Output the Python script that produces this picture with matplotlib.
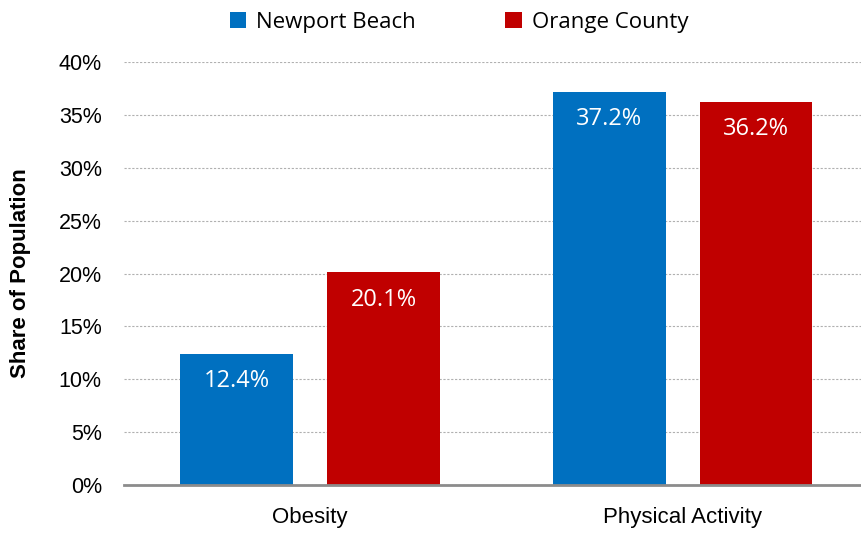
import numpy as np
import matplotlib
matplotlib.use("Agg")
import matplotlib.pyplot as plt
from matplotlib.ticker import FuncFormatter

categories = ["Obesity", "Physical Activity"]
newport_beach = [12.4, 37.2]
orange_county = [20.1, 36.2]
series_names = ["Newport Beach", "Orange County"]
y_ticks = [0, 5, 10, 15, 20, 25, 30, 35, 40]

BLUE = "#0070C0"
RED = "#C00000"

narrow = ["Liberation Sans Narrow", "Liberation Sans", "DejaVu Sans"]
label_font = ["Open Sans", "DejaVu Sans"]

fig = plt.figure(figsize=(8.61, 5.33), dpi=100)
ax = fig.add_axes([0.144, 0.09, 0.865, 0.7937])

x = np.arange(len(categories))
width = 0.303
offset = 0.197
bars_nb = ax.bar(x - offset, newport_beach, width, color=BLUE, label=series_names[0], zorder=3)
bars_oc = ax.bar(x + offset, orange_county, width, color=RED, label=series_names[1], zorder=3)

# value labels just inside the top of each bar
for bars in (bars_nb, bars_oc):
    for b in bars:
        h = b.get_height()
        ax.annotate(f"{h:.1f}%", (b.get_x() + b.get_width() / 2, h),
                    xytext=(0, -11), textcoords="offset points",
                    ha="center", va="top", color="white", fontsize=17,
                    family=label_font)

ax.set_xlim(-0.5, 1.5)
ax.set_ylim(0, 40)
ax.set_yticks(y_ticks)
ax.yaxis.set_major_formatter(FuncFormatter(lambda v, p: f"{int(v)}%"))
ax.set_xticks(x)
ax.set_xticklabels(categories, family=narrow, fontsize=16)
for t in ax.get_yticklabels():
    t.set_family(narrow)
    t.set_fontsize(15.5)

ax.tick_params(axis="both", length=0, colors="black")
ax.tick_params(axis="y", pad=16)
ax.tick_params(axis="x", pad=16)
ax.yaxis.grid(True, color="#b0b0b0", linestyle=(0, (2, 1.5)), linewidth=0.8, zorder=0)
for side in ("top", "right", "left"):
    ax.spines[side].set_visible(False)
ax.spines["bottom"].set_color("#8c8c8c")
ax.spines["bottom"].set_linewidth(2)
ax.spines["bottom"].set_zorder(4)

ax.set_ylabel("Share of Population", fontsize=16, fontweight="bold",
              family=["Liberation Sans", "DejaVu Sans"])
ax.yaxis.set_label_coords(-0.125, 0.5)

fig.legend(handles=[bars_nb, bars_oc], labels=series_names, loc="upper center",
           bbox_to_anchor=(0.533, 1.015), ncol=2, frameon=False, handlelength=0.75,
           handleheight=0.75, handletextpad=0.45, columnspacing=4.0,
           prop={"family": label_font, "size": 16})

fig.savefig("out.png", dpi=100)
